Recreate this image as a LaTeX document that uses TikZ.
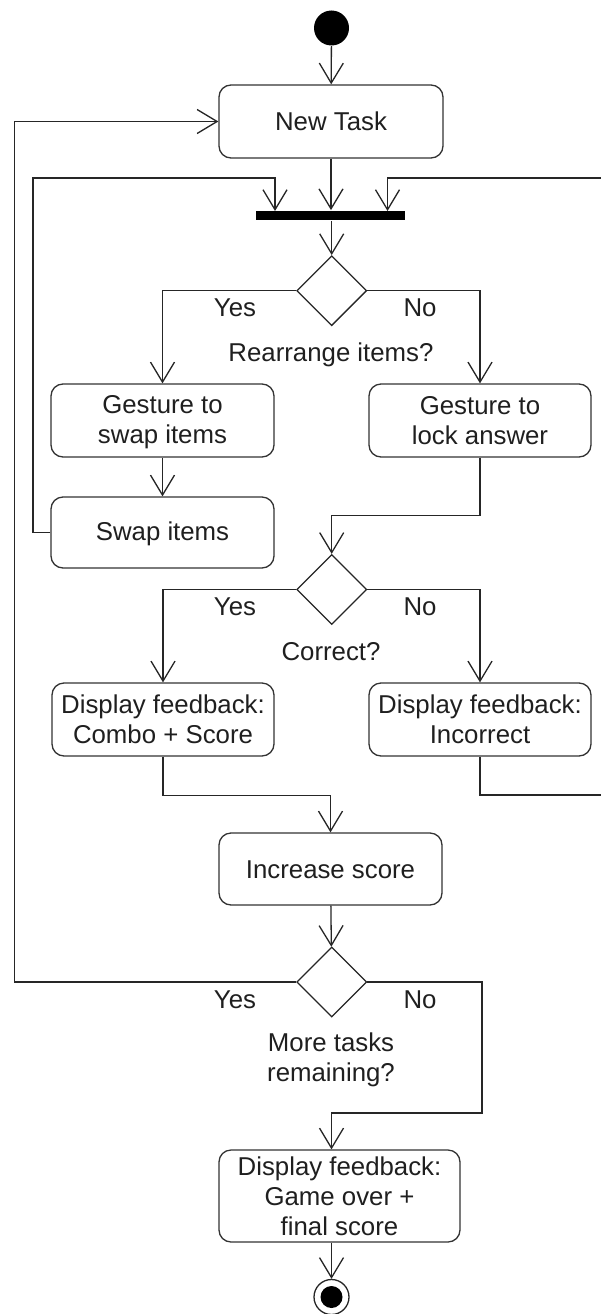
\documentclass[tikz,border=0pt]{standalone}
\usepackage{fontspec}
\setmainfont{Liberation Sans}
\usetikzlibrary{arrows.meta,shapes.geometric}
% line strut so every text line has the same height and depth
\newcommand{\lnstrut}{\rule[-4pt]{0pt}{26pt}}
\begin{document}
\begin{tikzpicture}[x=1pt,y=-1pt,
  line width=1.3pt,
  font=\fontsize{25.8}{30}\selectfont,
  flow/.style={draw=black!85, -{Straight Barb[length=20pt,width=24pt]}},
  act/.style={draw=black!80, rounded corners=12pt, inner sep=0pt, align=center, text=black!88},
  choice/.style={draw=black!85, diamond, minimum width=70pt, minimum height=70pt, inner sep=0pt},
  lbl/.style={text=black!88, inner sep=0pt, align=center, anchor=base},
  mlbl/.style={text=black!88, inner sep=0pt, align=center}]

\useasboundingbox (0,0) rectangle (601,1314);
\clip (0,0) rectangle (601,1314);

% activity nodes
\node[circle, fill=black, minimum size=35pt, inner sep=0pt] (start) at (331.5,28) {};
\node[act, minimum width=224pt, minimum height=73pt] (newtask) at (331,121.5) {New Task\lnstrut};
\node[fill=black, minimum width=149pt, minimum height=9.5pt, inner sep=0pt] (bar) at (330.5,215.5) {};
\node[choice] (d1) at (331.7,290.7) {};
\node[act, minimum width=223pt, minimum height=73pt] (gswap) at (162.5,420.5) {Gesture to\lnstrut\\swap items\lnstrut};
\node[act, minimum width=222pt, minimum height=73pt] (glock) at (480,420.5) {Gesture to\lnstrut\\lock answer\lnstrut};
\node[act, minimum width=223pt, minimum height=71pt] (swap) at (162.5,532.5) {Swap items\lnstrut};
\node[choice] (d2) at (331.7,589.5) {};
\node[act, minimum width=222pt, minimum height=73pt] (fbok) at (163,719.5) {Display feedback:\lnstrut\\Combo + Score\lnstrut};
\node[act, minimum width=222pt, minimum height=73pt] (fbno) at (480,719.5) {Display feedback:\lnstrut\\Incorrect\lnstrut};
\node[act, minimum width=223pt, minimum height=72pt] (inc) at (330.5,869) {Increase score\lnstrut};
\node[choice] (d3) at (331.7,982) {};
\node[act, minimum width=241pt, minimum height=92pt] (final) at (339.5,1196) {Display feedback:\lnstrut\\Game over +\lnstrut\\final score\lnstrut};
\node[circle, draw=black!85, minimum size=35pt, inner sep=0pt] (end) at (331.5,1297) {};
\node[circle, fill=black, minimum size=22pt, inner sep=0pt] (endcore) at (end) {};

% guard labels
\node[lbl] (y1) at (235,316) {Yes};
\node[lbl] (n1) at (420,316) {No};
\node[lbl] (q1) at (331,361) {Rearrange items?};
\node[lbl] (y2) at (235,615) {Yes};
\node[lbl] (n2) at (420,615) {No};
\node[lbl] (q2) at (331,660) {Correct?};
\node[lbl] (y3) at (235,1008) {Yes};
\node[lbl] (n3) at (420,1008) {No};
\node[mlbl] (q3) at (331,1058) {More tasks\lnstrut\\remaining?\lnstrut};

% bend points
\coordinate (barL) at (275,211);
\coordinate (barR) at (387.5,211);
\coordinate (loopL) at (33,178);
\coordinate (loopO) at (14.5,121.5);
\coordinate (farR) at (615,795);
\coordinate (turn3) at (482,1113);

% control flow
\draw[flow] (start) -- (newtask);
\draw[flow] (newtask.south) -- (newtask.south |- bar.north);
\draw[flow] (swap.west) -| (loopL) -| (barL);
\draw[flow] (fbno.south) |- (farR) |- ([yshift=33pt]barR) -- (barR);
\draw[flow] (d1.north |- bar.south) -- (d1.north);
\draw[flow] (d1.west) -| (gswap.north);
\draw[flow] (d1.east) -| (glock.north);
\draw[flow] (gswap) -- (swap);
\draw[flow] (glock.south) -- ++(0,58) -| (d2.north);
\draw[flow] (d2.west) -| (fbok.north);
\draw[flow] (d2.east) -| (fbno.north);
\draw[flow] (fbok.south) -- ++(0,39) -| (inc.north);
\draw[flow] (inc) -- (d3);
\draw[flow] (d3.west) -| (loopO) -- (newtask.west);
\draw[flow] (d3.east) -| (turn3) -| (end |- final.north);
\draw[flow] (final.south -| end) -- (end);
\end{tikzpicture}
\end{document}
